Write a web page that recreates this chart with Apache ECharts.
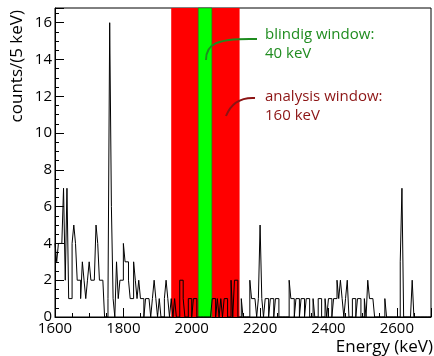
<!DOCTYPE html>
<html>
<head>
<meta charset="utf-8">
<script src="https://cdn.jsdelivr.net/npm/echarts@6/dist/echarts.min.js"></script>
<style>
  html, body { margin: 0; padding: 0; background: #fff; }
  #chart { width: 434px; height: 356px; }
</style>
</head>
<body>
<div id="chart"></div>
<script>
// histogram: counts per 5 keV bin, starting at 1600 keV
var binStart = 1600;
var binWidth = 5;
var counts = [
  4, 3, 4, 4, 4, 7, 2, 7, 1, 1,
  4, 5, 4, 2, 2, 1, 3, 2, 1, 2,
  3, 2, 2, 2, 5, 4, 2, 2, 2, 0,
  0, 1, 16, 6, 1, 0, 3, 1, 2, 2,
  4, 3, 3, 2, 1, 1, 3, 2, 1, 2,
  1, 1, 0, 1, 1, 1, 0, 1, 2, 1,
  0, 1, 0, 0, 1, 2, 1, 0, 1, 0,
  1, 0, 0, 2, 2, 1, 0, 0, 1, 1,
  0, 1, 1, 0, 0, 0, 0, 0, 0, 0,
  0, 0, 1, 1, 0, 1, 0, 1, 0, 1,
  1, 0, 0, 2, 0, 2, 2, 0, 0, 1,
  0, 0, 0, 0, 2, 1, 1, 1, 0, 1,
  5, 1, 0, 1, 1, 0, 1, 1, 0, 1,
  1, 0, 0, 0, 0, 0, 0, 2, 1, 1,
  0, 1, 1, 0, 1, 1, 0, 1, 1, 0,
  0, 1, 0, 0, 1, 1, 0, 0, 1, 0,
  1, 1, 0, 1, 1, 2, 1, 2, 1, 0,
  1, 2, 0, 0, 1, 1, 0, 1, 1, 0,
  0, 1, 0, 2, 1, 1, 1, 0, 0, 0,
  0, 0, 0, 1, 0, 0, 0, 0, 0, 0,
  0, 0, 3, 7, 0, 0, 0, 0, 0, 2,
  0, 0, 0, 0, 0, 0, 0, 0, 0, 0
];
var analysisWindow = [1940, 2140];
var blindWindow = [2019, 2059];

var histData = counts.map(function (c, i) { return [binStart + i * binWidth, c]; });
histData.push([binStart + counts.length * binWidth, counts[counts.length - 1]]);

var font = 'Open Sans';
var chart = echarts.init(document.getElementById('chart'));

var option = {
  animation: false,
  backgroundColor: '#fff',
  grid: { left: 55, right: 3, top: 8, bottom: 39, show: true, borderColor: '#000', borderWidth: 1 },
  xAxis: {
    type: 'value', min: 1600, max: 2700, interval: 200,
    axisLine: { lineStyle: { color: '#000', width: 1 } },
    axisTick: { inside: true, length: 9, lineStyle: { color: '#000' } },
    minorTick: { show: true, splitNumber: 4, length: 4, lineStyle: { color: '#000' } },
    axisLabel: {
      color: '#000', fontFamily: font, fontSize: 15, margin: 4,
      formatter: function (v) { return (v - 1600) % 200 === 0 && v < 2700 ? v : ''; }
    },
    splitLine: { show: false }
  },
  yAxis: {
    type: 'value', min: 0, max: 16.8, interval: 2,
    axisLine: { lineStyle: { color: '#000', width: 1 } },
    axisTick: { inside: true, length: 9, lineStyle: { color: '#000' } },
    minorTick: { show: true, splitNumber: 4, length: 4, lineStyle: { color: '#000' } },
    axisLabel: {
      color: '#000', fontFamily: font, fontSize: 15, margin: 3,
      formatter: function (v) { return v % 2 === 0 ? v : ''; }
    },
    splitLine: { show: false }
  },
  series: [
    {
      type: 'line', z: 1, data: [[1600, 0]], symbol: 'none',
      lineStyle: { opacity: 0 },
      markArea: {
        silent: true,
        label: { show: false },
        data: [
          [{ xAxis: analysisWindow[0], itemStyle: { color: '#ff0000', opacity: 1 } }, { xAxis: analysisWindow[1] }],
          [{ xAxis: blindWindow[0], itemStyle: { color: '#00ff00', opacity: 1, borderColor: '#207020', borderWidth: 0.6 } }, { xAxis: blindWindow[1] }]
        ]
      }
    },
    {
      type: 'line', z: 3, step: 'end', data: histData, symbol: 'none',
      lineStyle: { color: '#000', width: 1 }
    }
  ],
  graphic: [
    {
      type: 'text', x: 17, y: 10, rotation: Math.PI / 2,
      style: { text: 'counts/(5 keV)', fill: '#000', font: '17px "Open Sans"', align: 'right', verticalAlign: 'middle' }
    },
    {
      type: 'text', x: 433, y: 347,
      style: { text: 'Energy (keV)', fill: '#000', font: '17px "Open Sans"', align: 'right', verticalAlign: 'middle' }
    },
    {
      type: 'text', x: 265, y: 25,
      style: { text: 'blindig window:\n40 keV', fill: '#1f8c1f', font: '15px "Open Sans"', lineHeight: 19 }
    },
    {
      type: 'text', x: 265, y: 87,
      style: { text: 'analysis window:\n160 keV', fill: '#8c1414', font: '15px "Open Sans"', lineHeight: 19 }
    },
    {
      type: 'bezierCurve', z: 10,
      shape: { x1: 257, y1: 39, cpx1: 216, cpy1: 38, cpx2: 206, cpy2: 44, x2: 206, y2: 60 },
      style: { stroke: '#1f8c1f', lineWidth: 2, fill: null }
    },
    {
      type: 'bezierCurve', z: 10,
      shape: { x1: 255, y1: 98, cpx1: 238, cpy1: 97, cpx2: 230, cpy2: 106, x2: 226, y2: 116 },
      style: { stroke: '#8c1414', lineWidth: 2, fill: null }
    }
  ]
};
chart.setOption(option);
</script>
</body>
</html>
